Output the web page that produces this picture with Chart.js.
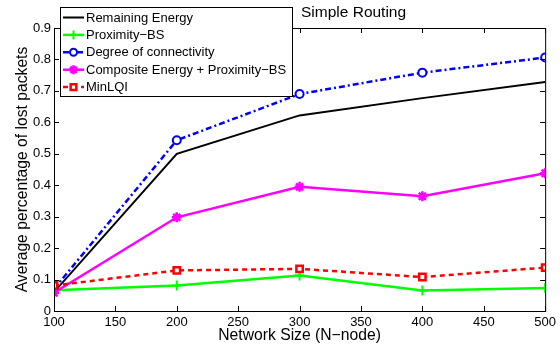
<!DOCTYPE html>
<html>
<head>
<meta charset="utf-8">
<script src="https://cdn.jsdelivr.net/npm/chart.js@4/dist/chart.umd.min.js"></script>
<style>
  body { margin: 0; background: #fff; }
  #wrap { width: 560px; height: 347px; }
</style>
</head>
<body>
<div id="wrap"><canvas id="chart" width="560" height="347"></canvas></div>
<script>
// network sizes on the x axis
const nodes = [100, 200, 300, 400, 500];

// average percentage of lost packets per strategy
const remainingEnergy = [0.060, 0.500, 0.622, 0.677, 0.728];
const proximityBS = [0.066, 0.081, 0.113, 0.065, 0.073];
const degreeConn = [0.070, 0.543, 0.690, 0.758, 0.806];
const composite = [0.058, 0.298, 0.395, 0.365, 0.438];
const minLQI = [0.081, 0.129, 0.134, 0.108, 0.138];

const seriesNames = ['Remaining Energy', 'Proximity\u2212BS', 'Degree of connectivity',
  'Composite Energy + Proximity\u2212BS', 'MinLQI'];

const FONT = '"Liberation Sans", Arial, Helvetica, sans-serif';

function pts(vals) {
  return vals.map((v, i) => ({ x: nodes[i], y: v }));
}

// MATLAB style box with inward ticks, title and legend
const matlabFrame = {
  id: 'matlabFrame',
  afterDatasetsDraw(chart) {
    const c = chart.ctx;
    const a = chart.chartArea;
    const xs = chart.scales.x, ys = chart.scales.y;
    c.save();
    c.strokeStyle = '#000';
    c.lineWidth = 1;
    c.strokeRect(a.left + 0.5, a.top + 0.5, a.right - a.left, a.bottom - a.top);
    c.beginPath();
    xs.ticks.forEach(t => {
      const px = Math.round(xs.getPixelForValue(t.value)) + 0.5;
      c.moveTo(px, a.bottom); c.lineTo(px, a.bottom - 5);
      c.moveTo(px, a.top); c.lineTo(px, a.top + 5);
    });
    ys.ticks.forEach(t => {
      const py = Math.round(ys.getPixelForValue(t.value)) + 0.5;
      c.moveTo(a.left, py); c.lineTo(a.left + 5, py);
      c.moveTo(a.right, py); c.lineTo(a.right - 5, py);
    });
    c.stroke();

    // title
    c.fillStyle = '#000';
    c.font = '15.5px ' + FONT;
    c.textBaseline = 'middle';
    c.textAlign = 'left';
    c.fillText('Simple Routing', 301, 13);

    // legend
    const lx = 60, ly = 7, lw = 232, lh = 89;
    c.fillStyle = '#fff';
    c.fillRect(lx, ly, lw, lh);
    c.strokeRect(lx + 0.5, ly + 0.5, lw, lh);
    c.font = '13px ' + FONT;
    chart.data.datasets.forEach((ds, i) => {
      const y = 17.5 + i * 17.4;
      c.save();
      c.strokeStyle = ds.borderColor;
      c.lineWidth = ds.borderWidth;
      c.setLineDash(ds.borderDash || []);
      c.beginPath();
      c.moveTo(63, y); c.lineTo(84, y);
      c.stroke();
      c.restore();
      if (ds.pointRadius > 0) {
        c.save();
        c.fillStyle = ds.pointBackgroundColor;
        c.strokeStyle = ds.borderColor;
        c.lineWidth = ds.pointBorderWidth;
        Chart.helpers.drawPoint(c, {
          pointStyle: ds.pointStyle, radius: ds.pointRadius - 0.5, rotation: 0,
          borderWidth: ds.pointBorderWidth
        }, 73.5, y);
        c.restore();
      }
      c.fillStyle = '#000';
      c.fillText(ds.label, 86, y + 0.5);
    });
    c.restore();
  }
};

new Chart(document.getElementById('chart').getContext('2d'), {
  type: 'line',
  data: {
    datasets: [{
      label: seriesNames[0],
      data: pts(remainingEnergy),
      borderColor: '#000000',
      borderWidth: 2,
      pointRadius: 0,
      order: 5
    }, {
      label: seriesNames[1],
      data: pts(proximityBS),
      borderColor: '#00ff00',
      borderWidth: 2.5,
      pointStyle: 'cross',
      pointRadius: 5,
      pointBorderWidth: 2,
      pointBackgroundColor: '#00ff00',
      order: 4
    }, {
      label: seriesNames[2],
      data: pts(degreeConn),
      borderColor: '#0000ff',
      borderWidth: 2.5,
      borderDash: [6, 3, 2, 3],
      pointStyle: 'circle',
      pointRadius: 4,
      pointBorderWidth: 2,
      pointBackgroundColor: '#ffffff',
      order: 3
    }, {
      label: seriesNames[3],
      data: pts(composite),
      borderColor: '#ff00ff',
      borderWidth: 2.5,
      pointStyle: 'star',
      pointRadius: 5,
      pointBorderWidth: 2.5,
      pointBackgroundColor: '#ff00ff',
      order: 2
    }, {
      label: seriesNames[4],
      data: pts(minLQI),
      borderColor: '#ff0000',
      borderWidth: 2.5,
      borderDash: [5, 4],
      pointStyle: 'rect',
      pointRadius: 4.5,
      pointBorderWidth: 2.5,
      pointBackgroundColor: '#ffffff',
      order: 1
    }]
  },
  options: {
    responsive: false,
    animation: false,
    events: [],
    elements: { line: { tension: 0 } },
    layout: { padding: { top: 28, right: 12, left: 0, bottom: 0 } },
    plugins: { legend: { display: false }, tooltip: { enabled: false } },
    scales: {
      x: {
        type: 'linear',
        min: 100, max: 500,
        afterFit(s) { s.height = 36; },
        grid: { display: false, drawTicks: false },
        border: { display: false },
        ticks: { stepSize: 50, padding: 4, color: '#000', font: { family: FONT, size: 13 }, maxRotation: 0 },
        title: { display: true, text: 'Network Size (N\u2212node)', color: '#000',
          font: { family: FONT, size: 15.7 }, padding: { top: 0, bottom: 2 } }
      },
      y: {
        min: 0, max: 0.9,
        afterFit(s) { s.width = 54; },
        grid: { display: false, drawTicks: false },
        border: { display: false },
        ticks: { stepSize: 0.1, padding: 3, color: '#000', font: { family: FONT, size: 13 },
          callback: v => v === 0 ? '0' : v.toFixed(1) },
        title: { display: true, text: 'Average percentage of lost packets', color: '#000',
          font: { family: FONT, size: 15.7 }, padding: { top: 13, bottom: 0 } }
      }
    }
  },
  plugins: [matlabFrame]
});
</script>
</body>
</html>
